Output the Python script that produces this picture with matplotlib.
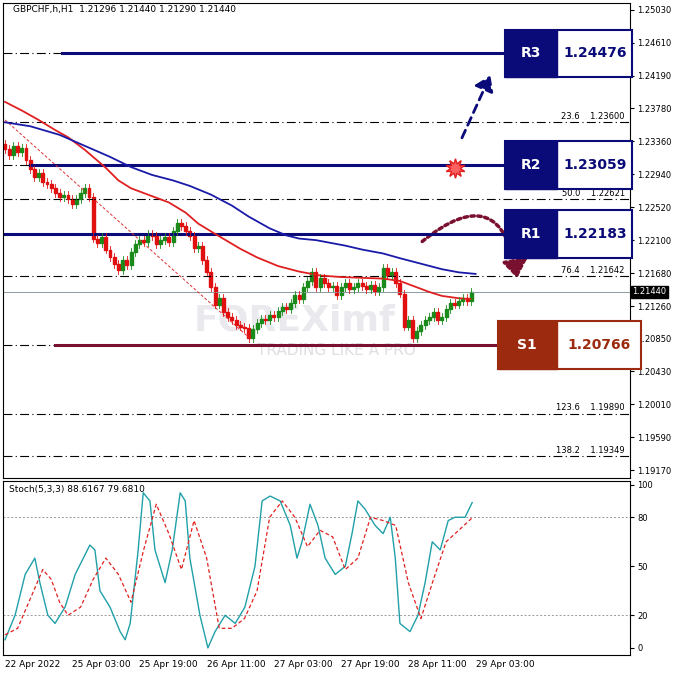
import matplotlib
matplotlib.use("Agg")
import matplotlib.pyplot as plt
import numpy as np
from matplotlib.patches import Rectangle, FancyArrowPatch

closes = [1.2326,1.2318,1.2330,1.2322,1.2327,1.2312,
 1.2300,1.2290,1.2296,1.2284,1.2281,1.2276,
 1.2270,1.2265,1.2268,1.2262,1.2256,1.2262,
 1.2270,1.2276,1.2265,1.2212,1.2206,
 1.2214,1.2198,1.2188,1.2180,1.2172,1.2185,
 1.2178,1.2195,1.2205,1.2210,1.2208,1.2218,
 1.2215,1.2205,1.2210,1.2214,1.2208,1.2222,
 1.2232,1.2228,1.2222,1.2215,1.2200,1.2202,
 1.2185,1.2170,1.2150,1.2128,1.2136,1.2118,
 1.2112,1.2108,1.2102,1.2100,1.2098,1.2085,
 1.2097,1.2105,1.2110,1.2108,1.2115,1.2112,
 1.2120,1.2125,1.2122,1.2130,1.2140,1.2135,
 1.2150,1.2158,1.2170,1.2150,1.2162,1.2155,
 1.2150,1.2152,1.2140,1.2150,1.2155,1.2148,
 1.2150,1.2156,1.2152,1.2148,1.2153,1.2145,
 1.2150,1.2175,1.2165,1.2170,1.2155,1.2142,
 1.2100,1.2108,1.2085,1.2094,1.2102,1.2108,
 1.2112,1.2118,1.2108,1.2112,1.2122,1.2130,
 1.2128,1.2132,1.2136,1.2133,1.2144]
first_open = 1.2332

red_x = [0,4,8,12,15,19,24,27,30,35,39,43,46,50,56,60,65,70,75,80,85,90,94,98,101,104,108,111]
red_y = [1.2386,1.2375,1.2363,1.2350,1.2341,1.2325,1.2302,1.2286,1.2276,1.2266,1.2258,1.2245,1.2231,1.2218,1.2199,1.2188,1.2177,1.2170,1.2165,1.2163,1.2162,1.2161,1.2158,1.2150,1.2144,1.2139,1.2136,1.2135]
blue_x = [0,6,13,19,25,30,35,40,44,49,54,58,63,67,70,74,77,81,85,90,94,99,104,108,112]
blue_y = [1.2360,1.2355,1.2344,1.2330,1.2316,1.2303,1.2293,1.2286,1.2279,1.2268,1.2254,1.2240,1.2225,1.2216,1.2212,1.2210,1.2207,1.2203,1.2198,1.2193,1.2187,1.2180,1.2173,1.2169,1.2167]

levels = {"R3": 1.24476, "R2": 1.23059, "R1": 1.22183, "S1": 1.20766}
fib_pct = ["23.6", "50.0", "76.4", "123.6", "138.2"]
fib_val = [1.23600, 1.22621, 1.21642, 1.19890, 1.19349]
yticks = [1.25030,1.24610,1.24190,1.23780,1.23360,1.22940,1.22520,1.22100,1.21680,1.21260,1.20850,1.20430,1.20010,1.19590,1.19170]
last_price = 1.21440

st_x = [0,2.4,4.8,7.1,8.3,10.2,11.9,14.3,16.7,20.2,21.4,22.6,25,27.4,28.6,29.8,31.7,32.9,34.5,35.7,38.1,39.8,41.7,42.9,44,46.4,48.3,50,52.4,54.8,57.1,59.5,61.2,63.1,65.5,67.9,69.5,70.7,72.6,74.5,76.2,78.6,81,82.6,84,85.7,88.1,90,91.7,92.9,94,96.4,98.3,100,101.7,103.6,105.5,107.1,109.5,111.2]
st_k = [5,20,45,55,40,20,15,25,45,63,60,35,25,10,5,15,60,95,90,60,40,60,95,90,55,20,0,10,20,15,25,50,90,93,90,75,55,65,88,75,55,45,50,70,90,85,75,70,80,55,15,10,20,40,65,60,78,80,80,89]
st_d_x = [0,3,6,9,11,13,15,18,21,24,27,30,33,36,39,42,45,48,51,54,57,60,63,66,69,72,75,78,81,84,87,90,93,96,99,102,105,108,111.2]
st_d = [8,12,30,48,42,28,20,25,42,55,45,28,60,88,70,48,78,55,12,12,18,35,80,90,80,62,72,68,48,55,80,78,75,40,18,42,65,72,79.7]

xt_pos = [0,16,32,48,64,80,96,112]
xt_lab = ["22 Apr 2022","25 Apr 03:00","25 Apr 19:00","26 Apr 11:00","27 Apr 03:00","27 Apr 19:00","28 Apr 11:00","29 Apr 03:00"]
st_ticks = [100,80,50,20,0]

NAVY = "#0a0a78"; MAROON = "#7a1030"; BROWN = "#9b2a0e"
fig = plt.figure(figsize=(6.78,6.78), dpi=100)
fig.patch.set_facecolor("white")
ax = fig.add_axes([0.0044, 0.295, 0.925, 0.7006])
ax2 = fig.add_axes([0.0044, 0.034, 0.925, 0.257])
XL = (-0.48, 148.8)
for a in (ax, ax2):
    a.set_xlim(*XL)
    a.yaxis.tick_right()
    a.tick_params(axis='y', labelsize=6, length=3, pad=2)
    a.tick_params(axis='x', length=0)
    for s in a.spines.values(): s.set_linewidth(0.8)
ax.set_ylim(1.19072, 1.25119)
ax.set_yticks(yticks); ax.set_yticklabels([f"{v:.5f}" for v in yticks])
ax.set_xticks([])

for k, v in levels.items():
    start = {"R3": 13.6, "R2": 6, "R1": 0, "S1": 12}[k]
    col = MAROON if k == "S1" else NAVY
    ax.plot([-0.5, start], [v, v], color="black", lw=0.8, ls=(0,(8,3,1,3)))
    ax.plot([start, 119], [v, v], color=col, lw=2.2)
for p, v in zip(fib_pct, fib_val):
    ax.plot(XL, [v, v], color="black", lw=0.8, ls=(0,(8,3,1,3)))
    ax.text(147.5, v+0.0002, f"{p}    {v:.5f}", fontsize=6, ha="right", va="bottom")
ax.axhline(last_price, color="#8a9aa0", lw=0.7)

ax.plot([0, 58.5], [1.2363, 1.2084], color="#e03030", lw=0.7, ls=(0,(3,2)))

ax.text(45, 1.2108, "FOREXimf", fontsize=26, fontweight="bold", color="#d8d8e0", alpha=0.55, va="center", zorder=0)
ax.text(60, 1.2069, "TRADING LIKE A PRO", fontsize=11, color="#d0d0d8", alpha=0.7, va="center", zorder=0)

ax.plot(red_x, red_y, color="#e02020", lw=1.3)
ax.plot(blue_x, blue_y, color="#1a1aa8", lw=1.3)

opens = [first_open] + closes[:-1]
for i, (o, c) in enumerate(zip(opens, closes)):
    col = "#1a8a1a" if c >= o else "#e01010"
    hi = max(o, c) + 0.0005; lo = min(o, c) - 0.0005
    ax.plot([i, i], [lo, hi], color=col, lw=0.6)
    ax.add_patch(Rectangle((i-0.35, min(o, c)), 0.7, max(abs(c-o), 0.00005), color=col))

def box(x0, x1, y, lab, val, col, wl):
    h = 0.0061
    ax.add_patch(Rectangle((x0, y-h/2), x1-x0, h, facecolor="white", edgecolor=col, lw=1.5, zorder=5, clip_on=False))
    ax.add_patch(Rectangle((x0, y-h/2), wl, h, facecolor=col, edgecolor=col, zorder=6, clip_on=False))
    ax.text(x0+wl/2, y, lab, color="white", fontsize=10, fontweight="bold", ha="center", va="center", zorder=7)
    ax.text((x0+wl+x1)/2, y, val, color=col, fontsize=10, fontweight="bold", ha="center", va="center", zorder=7)
box(119, 149.3, levels["R3"], "R3", "1.24476", NAVY, 12.5)
box(119, 149.3, levels["R2"], "R2", "1.23059", NAVY, 12.5)
box(119, 149.3, levels["R1"], "R1", "1.22183", NAVY, 12.5)
box(117.3, 151.3, levels["S1"], "S1", "1.20766", BROWN, 14)

ax.add_patch(FancyArrowPatch((108.5, 1.2337), (115.8, 1.2423), arrowstyle="-|>,head_length=6,head_width=4",
             color=NAVY, lw=2, ls=(0,(3,2)), mutation_scale=1.5))
ax.add_patch(FancyArrowPatch((98.8, 1.2206), (122, 1.2158), connectionstyle="arc3,rad=-0.9",
             arrowstyle="-|>,head_length=7,head_width=5", color=MAROON, lw=2.5, ls=(0,(1,1)), mutation_scale=1.5))
ax.plot([107.2], [1.2302], marker=(10, 1, 0), ms=14, color="#ff6060", mec="#e02020")

ax.text(149.3, last_price, "1.21440", fontsize=6, color="white", ha="left", va="center",
        bbox=dict(boxstyle="square,pad=0.15", fc="black", ec="black"), clip_on=False)
ax.text(2, 1.2504, "GBPCHF,h,H1  1.21296 1.21440 1.21290 1.21440", fontsize=6.5, va="center")

ax2.set_ylim(-4.3, 102.4)
ax2.set_yticks(st_ticks); ax2.set_yticklabels([str(t) for t in st_ticks])
for lv in (80, 20):
    ax2.axhline(lv, color="#999999", lw=0.7, ls=(0,(2,2)))
ax2.plot(st_x, st_k, color="#20a0a8", lw=1)
ax2.plot(st_d_x, st_d, color="#e02020", lw=0.9, ls=(0,(3,2)))
ax2.text(1, 97, "Stoch(5,3,3) 88.6167 79.6810", fontsize=6.5, va="center")
ax2.set_xticks(xt_pos); ax2.set_xticklabels(xt_lab, fontsize=6.5)
for lab in ax2.get_xticklabels(): lab.set_horizontalalignment("left")
fig.savefig("out.png", dpi=100)
